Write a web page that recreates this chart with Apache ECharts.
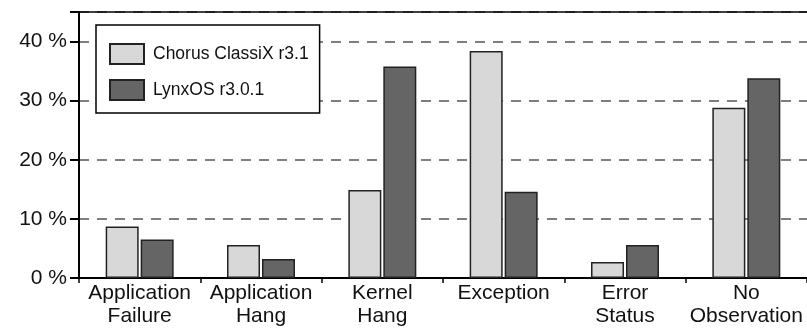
<!DOCTYPE html>
<html>
<head>
<meta charset="utf-8">
<script src="https://cdn.jsdelivr.net/npm/echarts@6/dist/echarts.min.js"></script>
<style>
  html, body { margin: 0; padding: 0; background: #fff; }
  #chart { width: 807px; height: 328px; }
</style>
</head>
<body>
<div id="chart"></div>
<script>
const categories = ["Application\nFailure", "Application\nHang", "Kernel\nHang", "Exception", "Error\nStatus", "No\nObservation"];
const chorus = [8.7, 5.6, 14.9, 38.4, 2.7, 28.8];
const lynx = [6.5, 3.2, 35.8, 14.6, 5.6, 33.8];
const yTicks = [0, 10, 20, 30, 40];

const font = '"Liberation Sans", Arial, Helvetica, sans-serif';

const chart = echarts.init(document.getElementById("chart"));

chart.setOption({
  backgroundColor: "#fff",
  animation: false,
  textStyle: { fontFamily: font },
  grid: { left: 79, right: -2, top: 12, bottom: 50 },
  legend: {
    orient: "vertical",
    left: 96, top: 25,
    padding: [18, 11, 12, 13],
    itemWidth: 34, itemHeight: 20, itemGap: 14,
    icon: "rect",
    backgroundColor: "#fff",
    borderColor: "#000", borderWidth: 1.5,
    textStyle: { fontSize: 17.5, color: "#111", fontFamily: font, padding: [0, 0, 0, 4] },
    data: ["Chorus ClassiX r3.1", "LynxOS r3.0.1"],
  },
  xAxis: [
    {
      type: "category",
      data: categories,
      axisLine: { lineStyle: { color: "#000", width: 2 } },
      axisTick: { show: true, length: 5, lineStyle: { color: "#000", width: 1.5 } },
      axisLabel: { fontSize: 21, lineHeight: 23, color: "#111", margin: 4, interval: 0 },
    },
    {
      // top frame line
      type: "category",
      position: "top",
      data: categories,
      axisLine: { show: true, onZero: false, lineStyle: { color: "#000", width: 1.5 } },
      axisTick: { show: false },
      axisLabel: { show: false },
      splitLine: { show: false },
    },
  ],
  yAxis: {
    type: "value",
    min: 0, max: 45, interval: 10,
    axisLine: { show: true, lineStyle: { color: "#000", width: 2 } },
    axisTick: { show: true, length: 9, lineStyle: { color: "#000", width: 2 } },
    axisLabel: {
      fontSize: 21, color: "#111", margin: 12,
      formatter: (v) => (yTicks.includes(v) ? v + " %" : ""),
    },
    splitLine: { lineStyle: { color: "#555", type: [10, 8], width: 1.5 } },
  },
  series: [
    {
      name: "Chorus ClassiX r3.1",
      type: "bar",
      data: chorus,
      barWidth: 33,
      barGap: "6%",
      itemStyle: { color: "#d8d8d8", borderColor: "#222", borderWidth: 1.5 },
    },
    {
      name: "LynxOS r3.0.1",
      type: "bar",
      data: lynx,
      barWidth: 33,
      itemStyle: { color: "#656565", borderColor: "#222", borderWidth: 1.5 },
    },
  ],
});
</script>
</body>
</html>
